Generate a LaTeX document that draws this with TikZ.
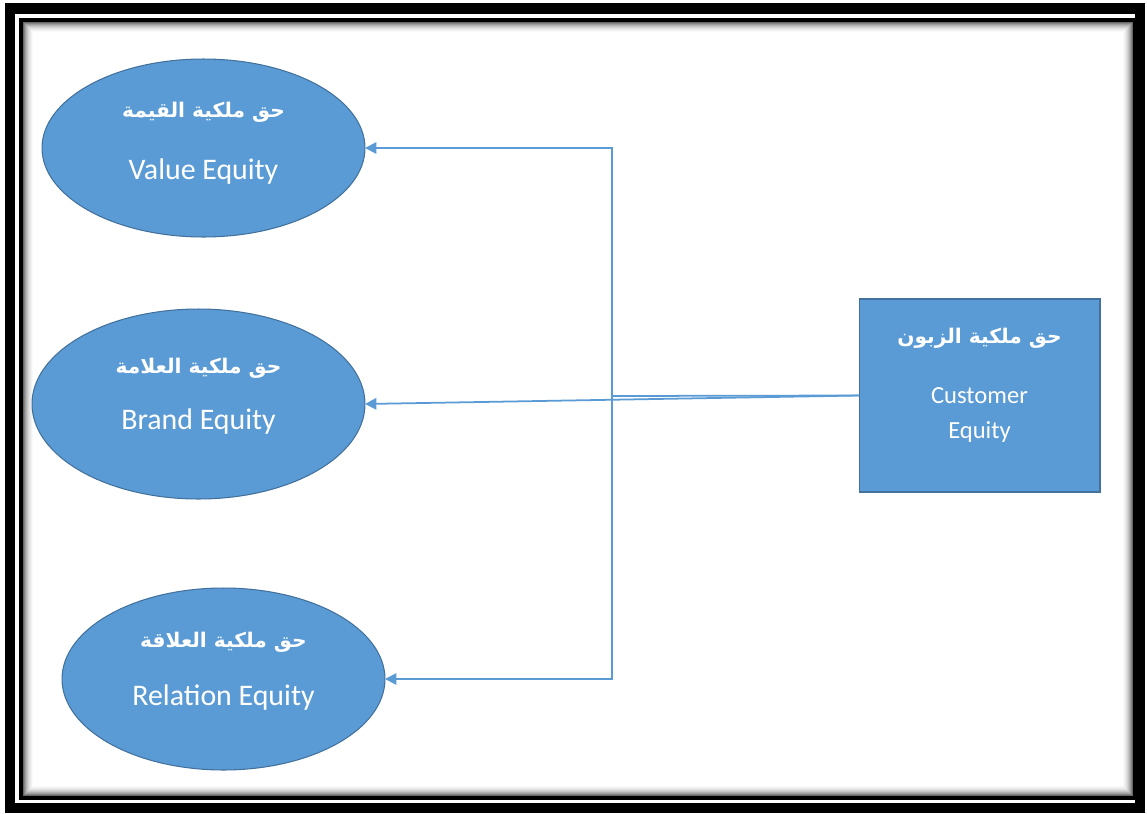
\documentclass[tikz,border=0pt]{standalone}
\usepackage{fontspec}
\setmainfont{Carlito}
\newfontfamily\arabicfont[Script=Arabic]{DejaVu Sans}
\TeXXeTstate=1
\usetikzlibrary{arrows.meta,shapes.geometric}
\definecolor{officeblue}{HTML}{5B9BD5}
\definecolor{officeedge}{HTML}{41719C}
\newcommand{\arabictext}[1]{{\arabicfont\bfseries\fontsize{11.5}{16}\selectfont\beginR #1\endR}}

\begin{document}
\begin{tikzpicture}[x=0.02cm,y=-0.02cm,>={Triangle[length=6.5pt,width=6.5pt]}]
  \tikzstyle{equity}=[ellipse,draw=officeedge,fill=officeblue,line width=0.6pt,
  			  text=white,align=center,inner sep=0pt,outer sep=0pt,
  			  font=\fontsize{17}{20}\selectfont]
  \tikzstyle{customer}=[equity,rectangle,font=\fontsize{14}{20}\selectfont]
  \tikzstyle{link}=[->,draw=officeblue,line width=1pt]
  \tikzstyle{frame}=[draw=black]
  % page and double frame
  \fill[white] (0,0) rectangle (1147,813);
  \draw[frame,line width=6pt] (10,8.5) rectangle (1140,808);
  \draw[frame,line width=2.3pt] (21,20) rectangle (1135,798);
  \foreach \i/\s in {0.5/60,1.5/48,2.5/38,3.5/30,4.5/23,5.5/17,6.5/12,7.5/8,8.5/5,9.5/2}
    \draw[black!\s,line width=0.6pt] (23+\i,22+\i) rectangle (1133-\i,796-\i);
  % the four parts
  \node[equity,minimum width=6.46cm,minimum height=3.56cm] (value) at (203.5,148)
    {\arabictext{حق ملكية القيمة}\\[15pt]Value Equity\\[-12pt]\mbox{}};
  \node[equity,minimum width=6.66cm,minimum height=3.8cm] (brand) at (198.5,404)
    {\arabictext{حق ملكية العلامة}\\[12pt]Brand Equity\\[-8pt]\mbox{}};
  \node[equity,minimum width=6.46cm,minimum height=3.64cm] (relation) at (223.5,679)
    {\arabictext{حق ملكية العلاقة}\\[13pt]Relation Equity\\[-8pt]\mbox{}};
  \node[customer,minimum width=4.82cm,minimum height=3.86cm] (cust) at (979.5,395.5)
    {\arabictext{حق ملكية الزبون}\\[14pt]Customer\\Equity\\[-6pt]\mbox{}};
  % connectors
  \coordinate (split) at (612,396);
  \draw[link] (cust.west) -- (brand.east);
  \draw[link] (cust.west) -- (split) |- (value.east);
  \draw[link] (split) |- (relation.east);
\end{tikzpicture}
\end{document}
